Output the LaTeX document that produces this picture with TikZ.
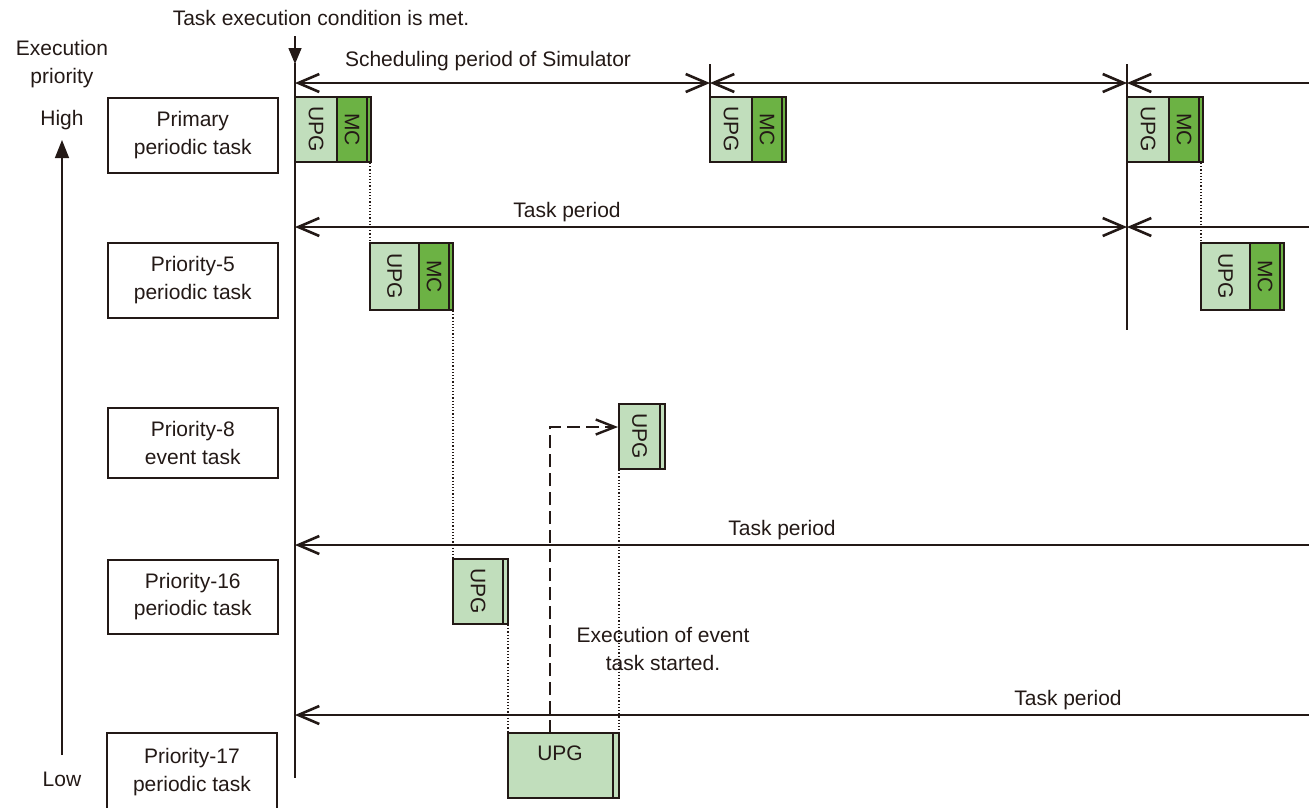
\documentclass[tikz,border=0pt]{standalone}
\usepackage{fontspec}
\setmainfont{Liberation Sans}
\usetikzlibrary{arrows.meta}
\definecolor{upgc}{RGB}{193,222,188}
\definecolor{mcc}{RGB}{108,178,68}
\definecolor{ink}{RGB}{35,25,22}
\tikzset{
  x=1pt, y=-1pt,
  every node/.style={font=\fontsize{21}{27.5}\selectfont, text=ink},
  taskbox/.style={draw=ink, line width=1.6pt, minimum width=170pt, inner sep=0pt, align=center},
  upg/.style={fill=upgc, draw=ink, line width=2pt},
  mc/.style={fill=mcc, draw=ink, line width=2pt},
  vlab/.style={rotate=-90, inner sep=0pt},
  mainline/.style={draw=ink, line width=2.6pt},
  bb/.tip={Straight Barb[length=21pt,width=18pt,line width=2.6pt]},
  period/.style={mainline},
  guide/.style={draw=ink, dotted, line width=1.2pt},
}
\begin{document}
\begin{tikzpicture}
\useasboundingbox (0,0) rectangle (1309,807);
\clip (0,0) rectangle (1309,807);

% Task name boxes
\node[taskbox, minimum height=75pt, anchor=north west] (tPrim) at (107,97) {Primary\\periodic task};
\node[taskbox, minimum height=75pt, anchor=north west] (tP5) at (107,242) {Priority-5\\periodic task};
\node[taskbox, minimum height=70pt, anchor=north west] (tP8) at (107,407) {Priority-8\\event task};
\node[taskbox, minimum height=74pt, anchor=north west] (tP16) at (107,559) {Priority-16\\periodic task};
\draw[draw=ink, line width=1.6pt] (107,812) -- (107,733) -- (277,733) -- (277,812);
\node[align=center] (tP17) at (192,772) {Priority-17\\periodic task};

% Priority axis
\node (execprio) at (62,64) [align=center] {Execution\\priority};
\node (high) at (62,120) {High};
\node (low) at (62,779) {Low};
\coordinate (axb) at (62,755);
\coordinate (axt) at (62,140);
\draw[draw=ink, line width=1.5pt, -{Triangle[length=18pt,width=14pt]}] (axb) -- (axt);

% Task execution condition
\node (cond) at (321,18) {Task execution condition is met.};
\coordinate (condA) at (295,36);
\coordinate (condB) at (295,64);
\draw[draw=ink, line width=1.5pt, -{Triangle[length=16pt,width=13pt]}] (condA) -- (condB);

% main time line and ticks
\coordinate (m0) at (295,63);
\coordinate (m1) at (295,778);
\draw[mainline] (m0) -- (m1);
\coordinate (s1t) at (710,64);
\coordinate (s1b) at (710,97);
\draw[mainline] (s1t) -- (s1b);
\coordinate (s2t) at (1127,64);
\coordinate (s2b) at (1127,330);
\draw[mainline] (s2t) -- (s2b);

% scheduling period arrows
\coordinate (a0) at (295,83);
\coordinate (a1) at (710,83);
\coordinate (a2) at (1127,83);
\coordinate (a3) at (1312,83);
\draw[period, bb-bb] (a0) -- (a1);
\draw[period, bb-bb] (a1) -- (a2);
\draw[period, bb-] (a2) -- (a3);
\node (schedlab) at (488,61) {Scheduling period of Simulator};

% task period primary / priority-5
\coordinate (b0) at (295,227);
\coordinate (b1) at (1127,227);
\coordinate (b2) at (1312,227);
\draw[period, bb-bb] (b0) -- (b1);
\draw[period, bb-] (b1) -- (b2);
\node (tp1) at (567,212) {Task period};

\coordinate (c0) at (295,545);
\coordinate (c1) at (1312,545);
\draw[period, bb-] (c0) -- (c1);
\node (tp2) at (782,530) {Task period};

\coordinate (d0) at (295,715);
\coordinate (d1) at (1312,715);
\draw[period, bb-] (d0) -- (d1);
\node (tp3) at (1068,700) {Task period};

% Primary periodic blocks
\foreach \xo/\nm in {295/pa,710/pb,1127/pc}{
  \filldraw[upg] (\xo,97) rectangle ++(42,65);
  \filldraw[mc] (\xo+42,97) rectangle ++(30,65);
  \filldraw[mc] (\xo+72,97) rectangle ++(4,65);
  \node[vlab] (\nm u) at (\xo+21,129.5) {UPG};
  \node[vlab] (\nm m) at (\xo+57,129.5) {MC};
}

% Priority-5 blocks
\foreach \xo/\nm in {370/qa,1201/qb}{
  \filldraw[upg] (\xo,243) rectangle ++(49,67);
  \filldraw[mc] (\xo+49,243) rectangle ++(30,67);
  \filldraw[mc] (\xo+79,243) rectangle ++(4,67);
  \node[vlab] (\nm u) at (\xo+24.5,276.5) {UPG};
  \node[vlab] (\nm m) at (\xo+64,276.5) {MC};
}

% Priority-8 block
\filldraw[upg] (619,404) rectangle (660,469);
\filldraw[upg] (660,404) rectangle (665,469);
\node[vlab] (e8) at (639.5,436.5) {UPG};

% Priority-16 block
\filldraw[upg] (453,559) rectangle (503,624);
\filldraw[upg] (503,559) rectangle (508,624);
\node[vlab] (p16) at (478,591.5) {UPG};

% Priority-17 block
\filldraw[upg] (508,733) rectangle (613,798);
\filldraw[upg] (613,733) rectangle (619,798);
\node (p17) at (560,753) {UPG};

% dotted guides
\coordinate (g1a) at (370,163); \coordinate (g1b) at (370,243);
\coordinate (g2a) at (453,311); \coordinate (g2b) at (453,559);
\coordinate (g3a) at (508,625); \coordinate (g3b) at (508,733);
\coordinate (g4a) at (619,470); \coordinate (g4b) at (619,733);
\coordinate (g5a) at (1201,163); \coordinate (g5b) at (1201,245);
\draw[guide] (g1a) -- (g1b);
\draw[guide] (g2a) -- (g2b);
\draw[guide] (g3a) -- (g3b);
\draw[guide] (g4a) -- (g4b);
\draw[guide] (g5a) -- (g5b);

% event start dashed arrow
\coordinate (ev0) at (550,733);
\coordinate (ev1) at (550,427);
\coordinate (ev2) at (618,427);
\draw[draw=ink, line width=2.4pt, dash pattern=on 13pt off 6pt, -{Straight Barb[length=19pt,width=15pt,line width=2.4pt]}] (ev0) -- (ev1) -- (ev2);
\node[align=center] (evlab) at (663,649) {Execution of event\\task started.};
\end{tikzpicture}
\end{document}
